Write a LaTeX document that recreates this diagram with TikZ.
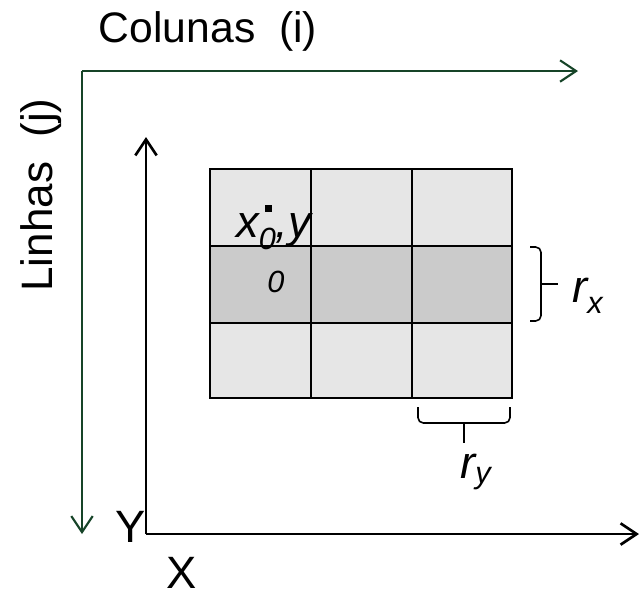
\documentclass[tikz,border=0pt]{standalone}
\usepackage{fontspec}
\setmainfont{Liberation Sans}
\usetikzlibrary{arrows.meta}
\definecolor{axgreen}{RGB}{22,68,40}
\definecolor{cellA}{RGB}{230,230,230}
\definecolor{cellB}{RGB}{203,203,203}
\tikzset{
  gridline/.style={line width=2.2pt},
  greenaxis/.style={draw=axgreen,line width=1.6pt,-{Straight Barb[length=12pt,width=16pt]}},
  blackaxis/.style={draw=black,line width=2pt,-{Straight Barb[length=12pt,width=16pt]}},
  bigtxt/.style={inner sep=0pt,font=\fontsize{32}{32}\selectfont},
  axtxt/.style={inner sep=0pt,font=\fontsize{34}{34}\selectfont},
  itxt/.style={inner sep=0pt,font=\fontsize{34}{34}\selectfont\itshape},
  subtxt/.style={inner sep=0pt,font=\fontsize{23}{23}\selectfont\itshape},
  bracestyle/.style={line width=1.2pt,rounded corners=4pt}
}
\begin{document}
\begin{tikzpicture}[x=0.75pt,y=-0.75pt]
\useasboundingbox (0,0) rectangle (640,594);
% grid
\fill[cellA] (210,169) rectangle (512,246);
\fill[cellB] (210,246) rectangle (512,323);
\fill[cellA] (210,323) rectangle (512,398);
\draw[gridline] (210,169) rectangle (512,398);
\draw[gridline] (311,169) -- (311,398);
\draw[gridline] (412,169) -- (412,398);
\draw[gridline] (210,246) -- (512,246);
\draw[gridline] (210,323) -- (512,323);
% green axes
\coordinate (gc) at (82,71);
\coordinate (gi) at (578,71);
\coordinate (gj) at (82,534);
\draw[greenaxis] (gc) -- (gi);
\draw[greenaxis] (gc) -- (gj);
% black axes
\coordinate (o) at (146,534);
\coordinate (xe) at (639,534);
\coordinate (ye) at (146,137);
\draw[blackaxis] (o) -- (xe);
\draw[blackaxis] (o) -- (ye);
% labels
\node[bigtxt,anchor=base] (col) at (208,42) {Colunas\ \ (i)};
\node[inner sep=0pt,font=\fontsize{33}{33}\selectfont,anchor=base,rotate=90] (lin) at (52,195) {Linhas\ \ (j)};
\node[axtxt,anchor=base] (ylab) at (130.5,542) {Y};
\node[axtxt,anchor=base] (xlab) at (181.5,588) {X};
% point label
\fill (265,205) rectangle (272,212);
\node[itxt,anchor=base west] (p0) at (236,237) {x\raisebox{-9.5pt}{\fontsize{23}{23}\selectfont 0},y};
\node[subtxt,anchor=base west] (p1) at (267,292) {0};
% right brace
\draw[bracestyle] (530,247) -- (541,247) -- (541,284);
\draw[bracestyle] (530,321) -- (541,321) -- (541,284);
\draw[line width=1.2pt] (541,284) -- (558,284);
\node[itxt,anchor=base west] (rx) at (572,302) {r\raisebox{-8.5pt}{\fontsize{23}{23}\selectfont x}};
% bottom brace
\draw[bracestyle] (418,407) -- (418,423) -- (464,423);
\draw[bracestyle] (510,407) -- (510,423) -- (464,423);
\draw[line width=1.2pt] (464,423) -- (464,443);
\node[itxt,anchor=base west] (ry) at (460,478) {r\raisebox{-4pt}{\fontsize{23}{23}\selectfont y}};
\end{tikzpicture}
\end{document}
